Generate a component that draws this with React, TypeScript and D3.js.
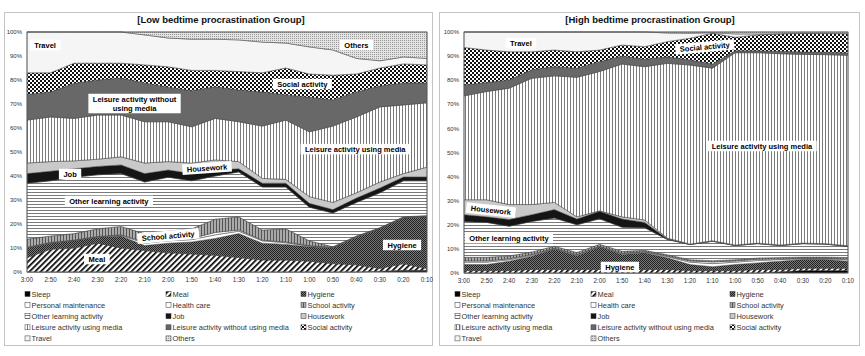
import React from 'react';
import * as d3 from 'd3';

const times = ['3:00','2:50','2:40','2:30','2:20','2:10','2:00','1:50','1:40','1:30','1:20','1:10','1:00','0:50','0:40','0:30','0:20','0:10'];
const activities = ['Sleep','Meal','Hygiene','Personal maintenance','Health care','School activity','Other learning activity','Job','Housework','Leisure activity using media','Leisure activity without using media','Social activity','Travel','Others'];
const yTicks = [0, 0.1, 0.2, 0.3, 0.4, 0.5, 0.6, 0.7, 0.8, 0.9, 1];

// Low bedtime procrastination group (% of respondents)
const lowSleep = [0,0,0,0,0,0,0,0,0,0,0,0,0,0,0,0.3,0.7,0.7];
const lowMeal = [6,9.5,10,12,10,9,8,7.5,7,6,5,5,4.5,3.5,3,1.2,2.8,0.8];
const lowHygiene = [4,2.5,3,2.5,5,2,4,5,7,10,7,6.5,6,6.5,11.5,16.5,19,21.5];
const lowPersonal = [0.2,0.2,0.2,0.2,0.3,1,1,1,1.5,1,1,0.7,0.3,0.2,0.2,0.2,0.2,0.2];
const lowHealth = [0.1,0.1,0.1,0.1,0.2,0.5,0.5,0.5,1,0.5,0.3,0.3,0.2,0.1,0.1,0.1,0.1,0.1];
const lowSchool = [3.4,2.7,2.7,3.2,3.5,3.5,3.5,4,5.5,5.5,4.2,5.5,2,0.2,0.2,0.2,0.2,0.2];
const lowOtherLearning = [23.3,23,23.5,22.5,22,21.5,22.5,20,18,18.7,17.9,17.4,14,14.1,14,14.5,15,14.5];
const lowJob = [4,4,3.5,3.5,3.6,3.5,3,3,2.5,1.3,1.6,1.6,1.6,1.4,1.8,2,1.6,1.6];
const lowHousework = [4.4,4,3.3,3,3.4,4.4,3.5,4.4,4.2,3,2,1.6,2.8,3,2.2,2.5,1.4,4.1];
const lowLeisureMedia = [17.9,18.6,17.7,18.4,17.4,17.2,16.6,15.1,17.3,16.6,21.8,24.7,27,31.8,31.6,31.3,28.6,26.8];
const lowLeisureNoMedia = [10.7,10.4,14.6,14.6,15.4,16.2,14.4,15,13.2,13.2,14.2,10.5,14.4,10.9,10.4,8.7,9.2,8.3];
const lowSocial = [9,8,8.4,7,6.2,7.5,8.5,8.5,6.8,7.7,8,11.2,9.7,10.3,7.5,7.5,7.9,7.5];
const lowTravel = [17,17,13,13,13,12.5,12,13,13,13.2,12.8,10.4,11.3,10.5,6.5,3,2.9,2.7];
const lowOthers = [0,0,0,0,0,1.2,2.5,3,3,3.3,4.2,4.6,6.2,7.5,11,12,10.4,11];

// High bedtime procrastination group (% of respondents)
const highSleep = [0,0,0,0,0,0,0,0,0,0,0,0,0,0,0.5,1,1,1];
const highMeal = [1,1,1,1.5,1.5,1.5,1.5,1.5,1.5,1.5,1,1,1,1.5,1,1,1,1];
const highHygiene = [2.5,2.5,3.9,5.5,8.5,5.7,9.3,6.2,6.9,4.8,2.5,1.6,2.5,2.7,3.4,3.6,3.6,2.9];
const highPersonal = [1,1,0.6,0.4,0.2,0.3,0.2,0.3,0.3,0.5,1,1.3,1,1,0.7,0.3,0.3,0.6];
const highHealth = [0.5,0.5,0.4,0.3,0.1,0.2,0.1,0.2,0.2,0.3,0.5,0.7,0.5,0.5,0.3,0.2,0.2,0.4];
const highSchool = [1.5,1.5,1.2,1,0.8,0.8,0.8,0.8,0.5,0.5,0.5,0.5,0.5,0.5,0.5,0.5,0.5,0.5];
const highOtherLearning = [14.9,14.5,12.3,12.7,11.7,11.5,10.6,10,9.4,6.3,6.3,8.1,5.9,6,5,5.6,5.4,4.7];
const highJob = [2.8,2.3,2.8,2.8,3.5,2.4,3.1,3.4,2.2,0.3,0,0,0,0,0,0,0,0];
const highHousework = [6.2,7.1,6.2,4.2,3,0.9,0.2,0.9,1,0.3,0.2,0.2,0.2,0.2,0.2,0.2,0.2,0.2];
const highLeisureMedia = [43.1,44.9,48.3,52.4,52.5,57.9,57.8,63.4,63.6,72.5,74.3,71.6,79.8,79,79.4,78.3,78.5,79.2];
const highLeisureNoMedia = [4.5,3.7,3.4,3.5,3.8,3.8,4.1,3.3,3.1,2.7,2.1,1.7,0.8,0.8,1,1,1,1];
const highSocial = [15.6,13.5,11.7,7.5,6.9,6.8,4.8,4.6,5.2,6.3,9,12.8,5.6,6.6,7.2,7.8,7.8,8];
const highTravel = [6.4,7.5,8.2,8.2,7.5,8.2,7.5,5.4,6.1,3.6,2.1,0.2,1.4,0.4,0.1,0,0,0];
const highOthers = [0,0,0,0,0,0,0,0,0,0.4,0.5,0.3,0.8,0.8,0.7,0.5,0.6,0.7];

const lowSeries = [lowSleep, lowMeal, lowHygiene, lowPersonal, lowHealth, lowSchool, lowOtherLearning, lowJob, lowHousework, lowLeisureMedia, lowLeisureNoMedia, lowSocial, lowTravel, lowOthers];
const highSeries = [highSleep, highMeal, highHygiene, highPersonal, highHealth, highSchool, highOtherLearning, highJob, highHousework, highLeisureMedia, highLeisureNoMedia, highSocial, highTravel, highOthers];

const fills = [
  '#000',
  'url(#p-meal)',
  'url(#p-hyg)',
  '#fff',
  '#fff',
  'url(#p-school)',
  'url(#p-ola)',
  '#151515',
  '#c9c9c9',
  'url(#p-lm)',
  '#686868',
  'url(#p-social)',
  '#f5f5f5',
  'url(#p-others)',
];

const FONT = '"Liberation Sans", Arial, Helvetica, sans-serif';

let measureCtx: CanvasRenderingContext2D | null = null;
function textW(s: string, size: number, bold: boolean) {
  if (!measureCtx && typeof document !== 'undefined') {
    measureCtx = document.createElement('canvas').getContext('2d');
  }
  if (!measureCtx) return s.length * size * 0.55;
  measureCtx.font = `${bold ? 'bold ' : ''}${size}px ${FONT}`;
  return measureCtx.measureText(s).width;
}

type LabelDef = { lines: string[]; xi: number; yp: number; rot?: number };

const lowLabels: LabelDef[] = [
  { lines: ['Travel'], xi: 0.77, yp: 94.6 },
  { lines: ['Others'], xi: 14.0, yp: 94.6 },
  { lines: ['Social activity'], xi: 11.7, yp: 78.3 },
  { lines: ['Leisure activity without', 'using media'], xi: 4.57, yp: 70.2 },
  { lines: ['Leisure activity using media'], xi: 13.95, yp: 51.2 },
  { lines: ['Housework'], xi: 7.65, yp: 43.3, rot: -4 },
  { lines: ['Job'], xi: 1.83, yp: 40.8 },
  { lines: ['Other learning activity'], xi: 3.48, yp: 29.6 },
  { lines: ['School activity'], xi: 6.0, yp: 15, rot: -5 },
  { lines: ['Hygiene'], xi: 15.94, yp: 11.25 },
  { lines: ['Meal'], xi: 2.97, yp: 5.4 },
];

const highLabels: LabelDef[] = [
  { lines: ['Travel'], xi: 2.52, yp: 95.4 },
  { lines: ['Social activity'], xi: 10.66, yp: 93.8, rot: -5 },
  { lines: ['Leisure activity using media'], xi: 13.19, yp: 52.7 },
  { lines: ['Housework'], xi: 1.19, yp: 26.1, rot: 6 },
  { lines: ['Other learning activity'], xi: 1.99, yp: 14.5 },
  { lines: ['Hygiene'], xi: 6.9, yp: 2.5 },
];

function Label({ x, y, lines, rot }: { x: number; y: number; lines: string[]; rot?: number }) {
  const fs = 7.5;
  const lh = 9;
  const w = Math.max(...lines.map((l) => textW(l, fs, true))) + 9;
  const h = lines.length * lh + 1.5;
  return (
    <g transform={`translate(${x},${y}) rotate(${rot || 0})`}>
      <rect x={-w / 2} y={-h / 2} width={w} height={h} fill="#fff" />
      {lines.map((l, i) => (
        <text key={i} x={0} y={-h / 2 + 0.75 + lh * (i + 0.5)} dy="0.36em" textAnchor="middle"
          fontSize={fs} fontWeight="bold" fontFamily={FONT} fill="#000">{l}</text>
      ))}
    </g>
  );
}

type PanelCfg = {
  x0: number; x1: number; y0: number; y1: number;
  left: number; right: number; top: number; bottom: number;
  title: string; titleX: number;
  legendCols: number[];
};

function Panel({ cfg, series, labels }: { cfg: PanelCfg; series: number[][]; labels: LabelDef[] }) {
  const x = d3.scalePoint<string>().domain(times).range([cfg.left, cfg.right]);
  const y = d3.scaleLinear().domain([0, 1]).range([cfg.bottom, cfg.top]);
  const rows = times.map((t, i) => {
    const r: any = { time: t };
    activities.forEach((a, k) => { r[a] = series[k][i]; });
    return r;
  });
  const stacked = d3.stack<any>().keys(activities).offset(d3.stackOffsetExpand)(rows);
  const area = d3.area<any>()
    .x((d: any) => x(d.data.time) as number)
    .y0((d: any) => y(d[0]))
    .y1((d: any) => y(d[1]));
  const fmt = d3.format('.0%');
  const legendRows = [0, 1, 2, 3, 4];
  const rowY = (r: number) => 294 + r * 11.1;

  return (
    <g>
      <rect x={cfg.x0 + 0.5} y={cfg.y0 + 0.5} width={cfg.x1 - cfg.x0} height={cfg.y1 - cfg.y0}
        fill="#fff" stroke="#c4c4c4" strokeWidth={1} />
      <text x={cfg.titleX} y={20} dy="0.35em" textAnchor="middle" fontSize={9.5} fontWeight="bold"
        fontFamily={FONT} fill="#111">{cfg.title}</text>
      {stacked.map((s, k) => (
        <path key={k} d={area(s as any) || ''} fill={fills[k]} stroke="#3a3a3a" strokeWidth={0.5} />
      ))}
      <rect x={cfg.left} y={cfg.top} width={cfg.right - cfg.left} height={cfg.bottom - cfg.top}
        fill="none" stroke="#666" strokeWidth={0.8} />
      {yTicks.map((t) => (
        <text key={t} x={cfg.left - 5} y={y(t)} dy="0.35em" textAnchor="end" fontSize={6}
          fontFamily={FONT} fill="#333">{fmt(t)}</text>
      ))}
      {times.map((t) => (
        <text key={t} x={x(t) as number} y={cfg.bottom + 8} dy="0.35em" textAnchor="middle" fontSize={6.3}
          fontFamily={FONT} fill="#333">{t}</text>
      ))}
      {labels.map((l, i) => (
        <Label key={i} x={(x(times[0]) as number) + l.xi * x.step()} y={y(l.yp / 100)} lines={l.lines} rot={l.rot} />
      ))}
      {legendRows.map((r) =>
        cfg.legendCols.map((cx, c) => {
          const k = r * 3 + c;
          if (k >= activities.length) return null;
          return (
            <g key={`${r}-${c}`}>
              <rect x={cx} y={rowY(r) - 2.5} width={5} height={5} fill={fills[k]} stroke="#333" strokeWidth={0.5} />
              <text x={cx + 6.5} y={rowY(r)} dy="0.35em" fontSize={7.4} fontFamily={FONT} fill="#333">{activities[k]}</text>
            </g>
          );
        })
      )}
    </g>
  );
}

const lowCfg: PanelCfg = {
  x0: 4, x1: 432, y0: 12, y1: 345,
  left: 27, right: 427, top: 32, bottom: 272,
  title: '[Low bedtime procrastination Group]', titleX: 221,
  legendCols: [25, 166, 301],
};
const highCfg: PanelCfg = {
  x0: 439, x1: 859, y0: 12, y1: 345,
  left: 464, right: 848, top: 32, bottom: 273,
  title: '[High bedtime procrastination Group]', titleX: 650,
  legendCols: [455, 591, 730],
};

export default function App() {
  return (
    <svg width={865} height={356} style={{ position: 'absolute', left: 0, top: 0, background: '#fff' }}>
      <defs>
        <pattern id="p-meal" width={4} height={4} patternUnits="userSpaceOnUse" patternTransform="rotate(45)">
          <rect width={4} height={4} fill="#fff" />
          <rect x={0} y={0} width={1.7} height={4} fill="#000" />
        </pattern>
        <pattern id="p-hyg" width={2} height={2} patternUnits="userSpaceOnUse">
          <rect width={2} height={2} fill="#777" />
          <rect x={0} y={0} width={1} height={1} fill="#222" />
          <rect x={1} y={1} width={1} height={1} fill="#222" />
        </pattern>
        <pattern id="p-school" width={3} height={3} patternUnits="userSpaceOnUse">
          <rect width={3} height={3} fill="#aaa" />
          <rect x={0} y={0} width={1} height={3} fill="#555" />
        </pattern>
        <pattern id="p-ola" width={3} height={3} patternUnits="userSpaceOnUse">
          <rect width={3} height={3} fill="#fff" />
          <rect x={0} y={0} width={3} height={1} fill="#7a7a7a" />
        </pattern>
        <pattern id="p-lm" width={3} height={3} patternUnits="userSpaceOnUse">
          <rect width={3} height={3} fill="#fff" />
          <rect x={0} y={0} width={1} height={3} fill="#7a7a7a" />
        </pattern>
        <pattern id="p-social" width={4} height={4} patternUnits="userSpaceOnUse">
          <rect width={4} height={4} fill="#fff" />
          <rect x={0} y={0} width={2} height={2} fill="#111" />
          <rect x={2} y={2} width={2} height={2} fill="#111" />
        </pattern>
        <pattern id="p-others" width={2} height={2} patternUnits="userSpaceOnUse">
          <rect width={2} height={2} fill="#e4e4e4" />
          <rect x={0} y={0} width={1} height={1} fill="#999" />
        </pattern>
      </defs>
      <Panel cfg={lowCfg} series={lowSeries} labels={lowLabels} />
      <Panel cfg={highCfg} series={highSeries} labels={highLabels} />
    </svg>
  );
}
